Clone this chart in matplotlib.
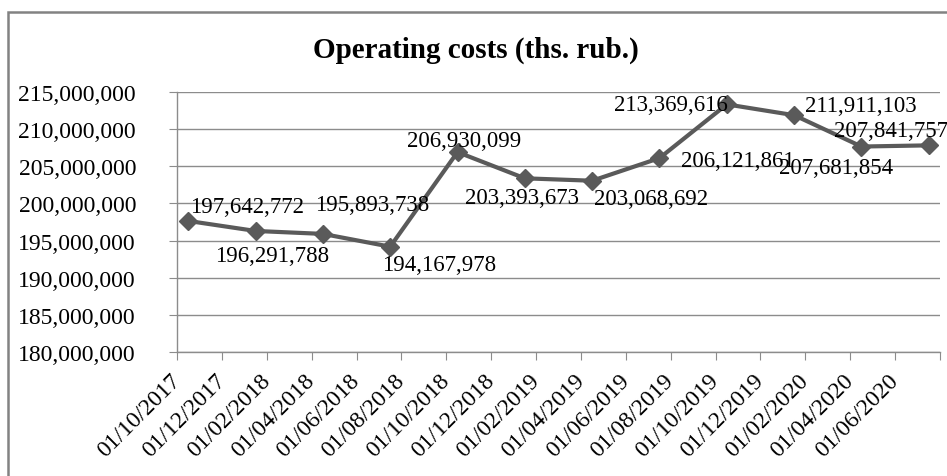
import matplotlib
matplotlib.use("Agg")
import matplotlib.pyplot as plt
from matplotlib.patches import Rectangle
from matplotlib.ticker import FuncFormatter
import matplotlib.transforms as mtransforms

# ---------------- data ----------------
point_dates = ["01/10/2017", "01/01/2018", "01/04/2018", "01/07/2018",
               "01/10/2018", "01/01/2019", "01/04/2019", "01/07/2019",
               "01/10/2019", "01/01/2020", "01/04/2020", "01/07/2020"]
costs = [197642772, 196291788, 195893738, 194167978,
         206930099, 203393673, 203068692, 206121861,
         213369616, 211911103, 207681854, 207841757]
tick_labels = ["01/10/2017", "01/12/2017", "01/02/2018", "01/04/2018",
               "01/06/2018", "01/08/2018", "01/10/2018", "01/12/2018",
               "01/02/2019", "01/04/2019", "01/06/2019", "01/08/2019",
               "01/10/2019", "01/12/2019", "01/02/2020", "01/04/2020",
               "01/06/2020"]
title = "Operating costs (ths. rub.)"

# label offsets (pixels, label centre relative to point)
label_offsets = [(59, -14), (17, 25), (49, -29), (49, 18), (7, -12), (-3, 19),
                 (59, 18), (78, 2), (-56, 0), (67, -10), (-25, 21), (-38, -15)]

# ---------------- helpers ----------------
def month_index(s, start=(2017, 10)):
    d, m, y = [int(v) for v in s.split("/")]
    return (y - start[0]) * 12 + (m - start[1])

x_pts = [month_index(d) + 0.5 for d in point_dates]
x_ticks = [month_index(t) for t in tick_labels]
x_end = month_index("01/08/2020")

SERIF = ["Liberation Serif", "DejaVu Serif"]
plt.rcParams["font.family"] = SERIF

fig = plt.figure(figsize=(9.47, 4.77), dpi=100)
W, H = 947, 477

# outer chart frame (cropped at right and bottom)
fig.patches.append(Rectangle((8 / W, -0.05), 1.0, (477 - 13) / H + 0.05,
                             transform=fig.transFigure, fill=False,
                             edgecolor="#828282", linewidth=1.8))

left, right, top, bottom = 177, 940, 93.3, 352.7
ax = fig.add_axes([left / W, (H - bottom) / H, (right - left) / W, (bottom - top) / H])

grid_c = "#8c8c8c"
ax.set_ylim(180_000_000, 215_000_000)
ax.set_yticks(range(180_000_000, 215_000_001, 5_000_000))
ax.yaxis.set_major_formatter(FuncFormatter(lambda v, p: f"{int(v):,}"))
ax.yaxis.grid(True, color=grid_c, linewidth=1.0)
ax.set_axisbelow(True)

ax.set_xlim(0, x_end)
ax.set_xticks(x_ticks + [x_end])
ax.set_xticklabels(tick_labels + [""], rotation=45, ha="right", va="center",
                   rotation_mode="anchor", fontsize=17)
offset = mtransforms.ScaledTranslation(13 / 100, 0, fig.dpi_scale_trans)
for lbl in ax.get_xticklabels():
    lbl.set_transform(lbl.get_transform() + offset)

for s in ["top", "right"]:
    ax.spines[s].set_visible(False)
for s in ["left", "bottom"]:
    ax.spines[s].set_color(grid_c)
    ax.spines[s].set_linewidth(1.0)

ax.tick_params(axis="x", direction="out", length=5.5, color=grid_c, pad=13)
ax.tick_params(axis="y", direction="out", length=5.5, color=grid_c, pad=24,
               labelsize=17)

line_c = "#5a5a5a"
ax.plot(x_pts, costs, color=line_c, linewidth=3, marker="D", markersize=9,
        markerfacecolor=line_c, markeredgecolor=line_c, clip_on=False, zorder=3)

for x, v, (dx, dy) in zip(x_pts, costs, label_offsets):
    ax.annotate(f"{v:,}", (x, v), xytext=(dx, -dy), textcoords="offset pixels",
                ha="center", va="center", fontsize=16.5, color="black",
                annotation_clip=False, zorder=4)

fig.text(476 / W, 1 - 50 / H, title, ha="center", va="center",
         fontsize=21, fontweight="bold")

fig.savefig("out.png", dpi=100)
